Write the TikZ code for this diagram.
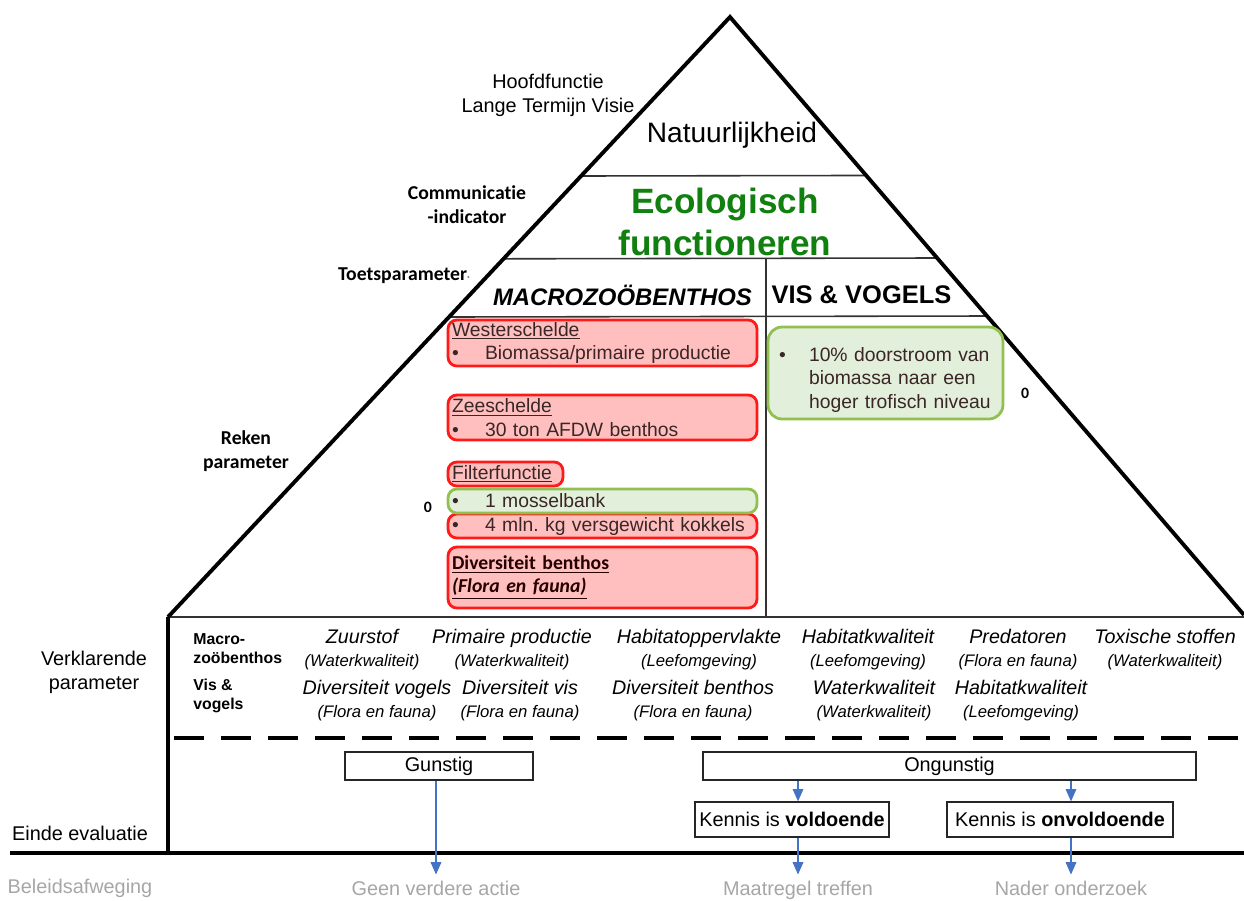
\documentclass[tikz,border=0pt]{standalone}
\usepackage{fontspec}
\setmainfont{Liberation Sans}
\newfontfamily\carlito[Ligatures=NoCommon]{Carlito}
\usetikzlibrary{arrows.meta, positioning, calc}
\definecolor{pyred}{HTML}{FF1A1A}
\definecolor{pypink}{HTML}{FFBFBF}
\definecolor{pygreen}{HTML}{92C050}
\definecolor{pylight}{HTML}{E2EFDA}
\definecolor{pyeco}{HTML}{10800F}
\definecolor{pyblue}{HTML}{4472C4}
\definecolor{pygrey}{HTML}{A6A6A6}
\definecolor{pytext}{HTML}{3A2626}
\newcommand{\blt}{\makebox[0.66cm][l]{•}}
\newcommand{\subp}[1]{{\fontsize{9.5}{13}\selectfont #1}}
\frenchspacing

\begin{document}
\begin{tikzpicture}[x=0.02cm, y=-0.02cm, font=\fontsize{11.3}{13.6}\selectfont,
      pyr/.style={line width=2.2pt, line join=miter},
      sep/.style={line width=0.9pt, color=black!80},
      lbl/.style={font=\carlito\bfseries\fontsize{11.2}{13.6}\selectfont, align=center},
      redbox/.style={draw=pyred, fill=pypink, line width=1.6pt, rounded corners=5pt, inner xsep=0.08cm, inner ysep=0pt,
                     text width=6.02cm, align=left, text=pytext, font=\fontsize{11}{13.6}\selectfont},
      greenbox/.style={redbox, draw=pygreen, fill=pylight},
      rowhd/.style={font=\bfseries\fontsize{9}{10.8}\selectfont, align=left, inner sep=0pt, anchor=west},
      vp/.style={font=\itshape\fontsize{11.2}{13}\selectfont, align=center, inner sep=0pt},
      flow/.style={draw=black!85, line width=0.7pt, fill=white, inner sep=0pt, minimum height=0.56cm},
      outc/.style={text=pygrey, text height=1.6ex, text depth=0.4ex},
      arr/.style={-{Triangle[length=7pt,width=6pt]}, pyblue, line width=0.8pt}]
      \useasboundingbox (0,0) rectangle (1244,900);

      \coordinate (apex) at (730,17);
      \coordinate (bl) at (168,617);
      \coordinate (br) at (1244,615);
      \draw[sep] ($(apex)!0.265!(bl)$) -- ($(apex)!0.265!(br)$);
      \draw[sep] ($(apex)!0.403!(bl)$) -- ($(apex)!0.403!(br)$);
      \draw[sep] ($(apex)!0.5!(bl)$) -- ($(apex)!0.5!(br)$);
      \draw[sep] (766,259) -- (766,617);
      \draw[sep] (bl) -- (1244,617);
      \draw[pyr] (bl) -- (apex) -- (br);
      \draw[pyr] (bl) -- (168,853);
      \draw[pyr] (10,853) -- (1244,853);
      \draw[pyr, dash pattern=on 0.6cm off 0.34cm] (174,738) -- (1244,738);

      \node[align=center] (hoofd) at (548,95) {Hoofdfunctie\\Lange Termijn Visie};
      \node[font=\fontsize{16}{19}\selectfont] (natuur) at (732,135) {Natuurlijkheid};
      \node[lbl] (comm) at (467,205) {Communicatie\\-indicator};
      \node[font=\bfseries\fontsize{20}{24}\selectfont, text=pyeco, align=center] (eco) at (725,222) {Ecologisch\\functioneren};
      \node[lbl] (toets) at (404,276) {Toetsparameter{\color{black!50}\fontsize{6}{6}\selectfont ·}};
      \node[font=\bfseries\itshape\fontsize{13.6}{16}\selectfont] (macro) at (622.5,295) {MACROZOÖBENTHOS};
      \node[font=\bfseries\fontsize{14.5}{17}\selectfont] (visvog) at (861.5,295) {VIS \& VOGELS};
      \node[lbl] (reken) at (246,451) {Reken\\parameter};
      \node[lbl, font=\carlito\bfseries\fontsize{9}{10}\selectfont] (nulA) at (428,507) {0};
      \node[lbl, font=\carlito\bfseries\fontsize{9}{10}\selectfont] (nulB) at (1025,393) {0};

      \node[redbox, minimum height=0.92cm] (wester) at (602.5,343) {\underline{Westerschelde}\\\blt Biomassa/primaire productie};
      \node[redbox, minimum height=0.9cm] (zee) at (602.5,417.5) {\underline{Zeeschelde}\\\blt 30 ton AFDW benthos};
      \node[redbox, text width=2.14cm, minimum height=0.48cm] (filter) at (505.5,474) {\underline{Filterfunctie}};
      \node[redbox, minimum height=0.48cm] (kokkel) at (602.5,526) {\blt 4 mln. kg versgewicht kokkels};
      \node[greenbox, minimum height=0.48cm] (mossel) at (602.5,501) {\blt 1 mosselbank};
      \node[redbox, minimum height=1.22cm, font=\carlito\bfseries\fontsize{11.2}{13}\selectfont, text=black!85!red] (divers) at (602.5,577.5)
            {\underline{Diversiteit benthos}\\\underline{\itshape (Flora en fauna)}};
      \node[greenbox, text width=4.5cm, inner xsep=0.1cm, minimum height=1.84cm, rounded corners=8pt] (doorstroom) at (885.5,373)
            {\rule{0pt}{0.56cm}\hspace*{0.12cm}\makebox[0.6cm][l]{•}10\% doorstroom van\\\hspace*{0.72cm}biomassa naar een\\\hspace*{0.72cm}hoger trofisch niveau};

      \node[align=center] (verkl) at (94,672) {Verklarende\\parameter};
      \node[rowhd] (rmacro) at (193,648.5) {Macro-\\zoöbenthos};
      \node[rowhd] (rvis) at (193,695.5) {Vis \&\\vogels};
      \node[vp] (zuur) at (362,649.5) {Zuurstof\\\subp{(Waterkwaliteit)}};
      \node[vp] (prim) at (512,649.5) {Primaire productie\\\subp{(Waterkwaliteit)}};
      \node[vp] (hopp) at (699,649.5) {Habitatoppervlakte\\\subp{(Leefomgeving)}};
      \node[vp] (hkwal) at (868,649.5) {Habitatkwaliteit\\\subp{(Leefomgeving)}};
      \node[vp] (pred) at (1018,649.5) {Predatoren\\\subp{(Flora en fauna)}};
      \node[vp] (tox) at (1165,649.5) {Toxische stoffen\\\subp{(Waterkwaliteit)}};
      \node[vp] (dvog) at (377,701) {Diversiteit vogels\\\subp{(Flora en fauna)}};
      \node[vp] (dvis) at (520,701) {Diversiteit vis\\\subp{(Flora en fauna)}};
      \node[vp] (dben) at (693,701) {Diversiteit benthos\\\subp{(Flora en fauna)}};
      \node[vp] (wkwal) at (874,701) {Waterkwaliteit\\\subp{(Waterkwaliteit)}};
      \node[vp] (hkwal2) at (1021,701) {Habitatkwaliteit\\\subp{(Leefomgeving)}};

      \node (einde) at (80,833) {Einde evaluatie};
      \node[outc] (beleid) at (80,888) {Beleidsafweging};
      \node[outc] (geen) at (436,890) {Geen verdere actie};
      \node[outc] (maat) at (798,890) {Maatregel treffen};
      \node[outc] (nader) at (1071,890) {Nader onderzoek};
      \node[flow, minimum width=3.76cm] (gunstig) at (439,766) {Gunstig};
      \node[flow, minimum width=9.86cm] (ongunstig) at (949.5,766) {Ongunstig};
      \node[flow, minimum width=3.88cm, minimum height=0.7cm] (voldoende) at (792,819.5) {Kennis is \textbf{voldoende}};
      \node[flow, minimum width=4.52cm, minimum height=0.7cm] (onvoldoende) at (1060,819.5) {Kennis is \textbf{onvoldoende}};
      \draw[arr] (gunstig.south -| geen) -- (geen.north);
      \draw[arr] (ongunstig.south -| maat) -- (voldoende.north -| maat);
      \draw[arr] (ongunstig.south -| nader) -- (onvoldoende.north -| nader);
      \draw[arr] (voldoende.south -| maat) -- (maat.north);
      \draw[arr] (onvoldoende.south -| nader) -- (nader.north);
\end{tikzpicture}
\end{document}
